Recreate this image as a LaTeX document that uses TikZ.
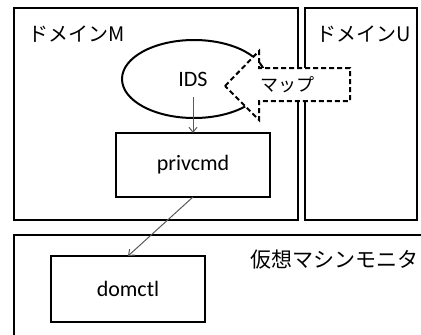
\documentclass[tikz,border=0pt]{standalone}
\usepackage{fontspec}
\setmainfont{Carlito}
\newfontfamily\jpfont{Noto Sans CJK JP}
\usetikzlibrary{arrows.meta,shapes.geometric}
\begin{document}
\begin{tikzpicture}[x=1pt,y=-1pt,
  frame/.style={draw=black,line width=2pt,rectangle,inner sep=0pt,outer sep=0pt},
  jlabel/.style={font=\jpfont\fontsize{20}{24}\selectfont,inner sep=0pt,anchor=west},
  elabel/.style={font=\fontsize{22}{26}\selectfont},
  link/.style={draw={rgb,255:red,89;green,89;blue,89},line width=1pt,
    -{Straight Barb[length=5pt,width=8pt]}}
]
\useasboundingbox (0,0) rectangle (421,335);
\clip (0,0) rectangle (421,335);
\fill[white] (0,0) rectangle (421,335);

% domains and hypervisor
\node[frame,minimum width=284pt,minimum height=212pt] (domM) at (156,114) {};
\node[frame,minimum width=112pt,minimum height=212pt] (domU) at (361,114) {};
\node[frame,minimum width=426pt,minimum height=115pt,anchor=north west] (vmm) at (14,235) {};

% IDS process
\node[draw=black,line width=2pt,ellipse,inner sep=0pt,outer sep=0pt,
      minimum width=144pt,minimum height=78pt] (ids) at (194,79) {};
\node[elabel,inner sep=0pt] (idslabel) at (193,79) {IDS};

% mapping arrow (filled, drawn over the borders)
\draw[line width=2pt,dash pattern=on 5pt off 3pt,fill=white]
  (225,86) -- (259,51) -- (259,68) -- (350,68) -- (350,101)
  -- (259,101) -- (259,120) -- cycle;
\node[jlabel,font=\jpfont\fontsize{18}{22}\selectfont] (map) at (260,85) {マップ};

% labels
\node[jlabel] (labM) at (28,34) {ドメインM};
\node[jlabel] (labU) at (316,34) {ドメインU};
\node[jlabel,font=\jpfont\fontsize{21}{25}\selectfont] (labV) at (250,260) {仮想マシンモニタ};

% components
\node[frame,elabel,minimum width=154pt,minimum height=64pt] (privcmd) at (193,165) {privcmd};
\node[frame,elabel,minimum width=154pt,minimum height=66pt] (domctl) at (128,289) {domctl};

% calls
\draw[link,shorten <=11pt] (idslabel) -- (privcmd);
\draw[link] (privcmd.south) -- (domctl.north);
\end{tikzpicture}
\end{document}
